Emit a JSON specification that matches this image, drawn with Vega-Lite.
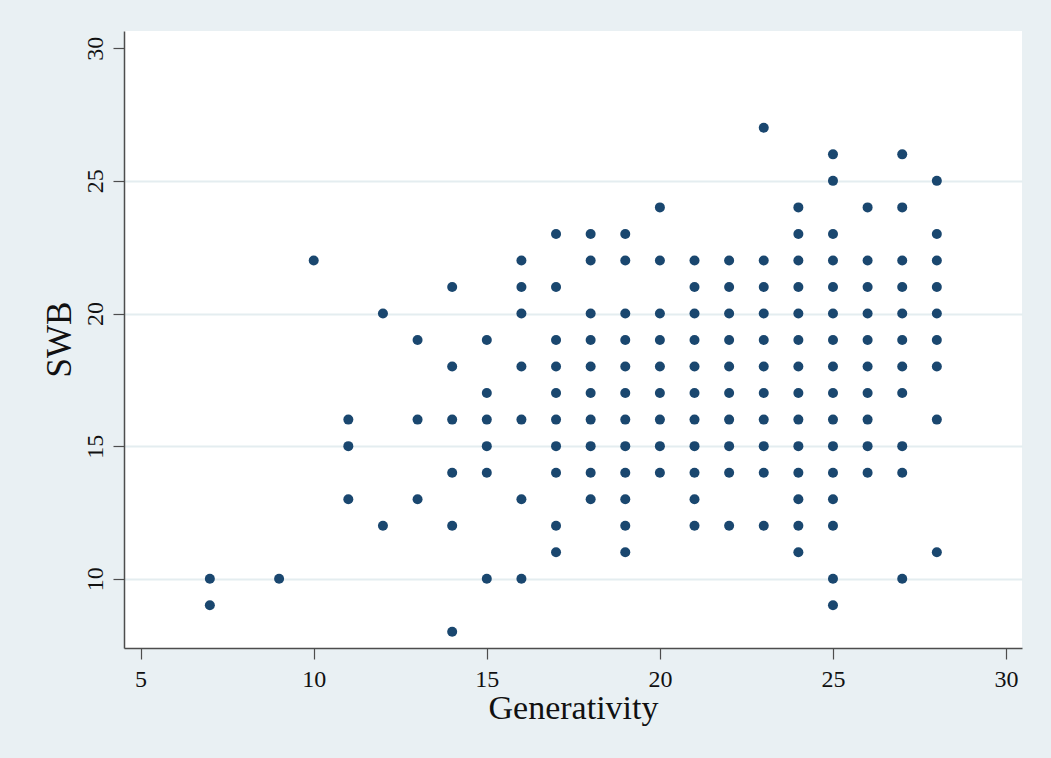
{
  "$schema": "https://vega.github.io/schema/vega-lite/v6.json",
  "autosize": {"type": "none"},
  "padding": {"left": 124, "top": 31, "right": 29, "bottom": 110},
  "width": 898,
  "height": 617,
  "background": "#e9f0f3",
  "config": {
    "view": {"fill": "white", "stroke": null},
    "font": "Liberation Serif"
  },
  "data": {
    "values": [
      {"Generativity": 7, "SWB": 10}, {"Generativity": 7, "SWB": 9},
      {"Generativity": 9, "SWB": 10},
      {"Generativity": 10, "SWB": 22},
      {"Generativity": 11, "SWB": 16}, {"Generativity": 11, "SWB": 15}, {"Generativity": 11, "SWB": 13},
      {"Generativity": 12, "SWB": 20}, {"Generativity": 12, "SWB": 12},
      {"Generativity": 13, "SWB": 19}, {"Generativity": 13, "SWB": 16}, {"Generativity": 13, "SWB": 13},
      {"Generativity": 14, "SWB": 21}, {"Generativity": 14, "SWB": 18}, {"Generativity": 14, "SWB": 16}, {"Generativity": 14, "SWB": 14}, {"Generativity": 14, "SWB": 12}, {"Generativity": 14, "SWB": 8},
      {"Generativity": 15, "SWB": 19}, {"Generativity": 15, "SWB": 17}, {"Generativity": 15, "SWB": 16}, {"Generativity": 15, "SWB": 15}, {"Generativity": 15, "SWB": 14}, {"Generativity": 15, "SWB": 10},
      {"Generativity": 16, "SWB": 22}, {"Generativity": 16, "SWB": 21}, {"Generativity": 16, "SWB": 20}, {"Generativity": 16, "SWB": 18}, {"Generativity": 16, "SWB": 16}, {"Generativity": 16, "SWB": 13}, {"Generativity": 16, "SWB": 10},
      {"Generativity": 17, "SWB": 23}, {"Generativity": 17, "SWB": 21}, {"Generativity": 17, "SWB": 19}, {"Generativity": 17, "SWB": 18}, {"Generativity": 17, "SWB": 17}, {"Generativity": 17, "SWB": 16}, {"Generativity": 17, "SWB": 15}, {"Generativity": 17, "SWB": 14}, {"Generativity": 17, "SWB": 12}, {"Generativity": 17, "SWB": 11},
      {"Generativity": 18, "SWB": 23}, {"Generativity": 18, "SWB": 22}, {"Generativity": 18, "SWB": 20}, {"Generativity": 18, "SWB": 19}, {"Generativity": 18, "SWB": 18}, {"Generativity": 18, "SWB": 17}, {"Generativity": 18, "SWB": 16}, {"Generativity": 18, "SWB": 15}, {"Generativity": 18, "SWB": 14}, {"Generativity": 18, "SWB": 13},
      {"Generativity": 19, "SWB": 23}, {"Generativity": 19, "SWB": 22}, {"Generativity": 19, "SWB": 20}, {"Generativity": 19, "SWB": 19}, {"Generativity": 19, "SWB": 18}, {"Generativity": 19, "SWB": 17}, {"Generativity": 19, "SWB": 16}, {"Generativity": 19, "SWB": 15}, {"Generativity": 19, "SWB": 14}, {"Generativity": 19, "SWB": 13}, {"Generativity": 19, "SWB": 12}, {"Generativity": 19, "SWB": 11},
      {"Generativity": 20, "SWB": 24}, {"Generativity": 20, "SWB": 22}, {"Generativity": 20, "SWB": 20}, {"Generativity": 20, "SWB": 19}, {"Generativity": 20, "SWB": 18}, {"Generativity": 20, "SWB": 17}, {"Generativity": 20, "SWB": 16}, {"Generativity": 20, "SWB": 15}, {"Generativity": 20, "SWB": 14},
      {"Generativity": 21, "SWB": 22}, {"Generativity": 21, "SWB": 21}, {"Generativity": 21, "SWB": 20}, {"Generativity": 21, "SWB": 19}, {"Generativity": 21, "SWB": 18}, {"Generativity": 21, "SWB": 17}, {"Generativity": 21, "SWB": 16}, {"Generativity": 21, "SWB": 15}, {"Generativity": 21, "SWB": 14}, {"Generativity": 21, "SWB": 13}, {"Generativity": 21, "SWB": 12},
      {"Generativity": 22, "SWB": 22}, {"Generativity": 22, "SWB": 21}, {"Generativity": 22, "SWB": 20}, {"Generativity": 22, "SWB": 19}, {"Generativity": 22, "SWB": 18}, {"Generativity": 22, "SWB": 17}, {"Generativity": 22, "SWB": 16}, {"Generativity": 22, "SWB": 15}, {"Generativity": 22, "SWB": 14}, {"Generativity": 22, "SWB": 12},
      {"Generativity": 23, "SWB": 27}, {"Generativity": 23, "SWB": 22}, {"Generativity": 23, "SWB": 21}, {"Generativity": 23, "SWB": 20}, {"Generativity": 23, "SWB": 19}, {"Generativity": 23, "SWB": 18}, {"Generativity": 23, "SWB": 17}, {"Generativity": 23, "SWB": 16}, {"Generativity": 23, "SWB": 15}, {"Generativity": 23, "SWB": 14}, {"Generativity": 23, "SWB": 12},
      {"Generativity": 24, "SWB": 24}, {"Generativity": 24, "SWB": 23}, {"Generativity": 24, "SWB": 22}, {"Generativity": 24, "SWB": 21}, {"Generativity": 24, "SWB": 20}, {"Generativity": 24, "SWB": 19}, {"Generativity": 24, "SWB": 18}, {"Generativity": 24, "SWB": 17}, {"Generativity": 24, "SWB": 16}, {"Generativity": 24, "SWB": 15}, {"Generativity": 24, "SWB": 14}, {"Generativity": 24, "SWB": 13}, {"Generativity": 24, "SWB": 12}, {"Generativity": 24, "SWB": 11},
      {"Generativity": 25, "SWB": 26}, {"Generativity": 25, "SWB": 25}, {"Generativity": 25, "SWB": 23}, {"Generativity": 25, "SWB": 22}, {"Generativity": 25, "SWB": 21}, {"Generativity": 25, "SWB": 20}, {"Generativity": 25, "SWB": 19}, {"Generativity": 25, "SWB": 18}, {"Generativity": 25, "SWB": 17}, {"Generativity": 25, "SWB": 16}, {"Generativity": 25, "SWB": 15}, {"Generativity": 25, "SWB": 14}, {"Generativity": 25, "SWB": 13}, {"Generativity": 25, "SWB": 12}, {"Generativity": 25, "SWB": 10}, {"Generativity": 25, "SWB": 9},
      {"Generativity": 26, "SWB": 24}, {"Generativity": 26, "SWB": 22}, {"Generativity": 26, "SWB": 21}, {"Generativity": 26, "SWB": 20}, {"Generativity": 26, "SWB": 19}, {"Generativity": 26, "SWB": 18}, {"Generativity": 26, "SWB": 17}, {"Generativity": 26, "SWB": 16}, {"Generativity": 26, "SWB": 15}, {"Generativity": 26, "SWB": 14},
      {"Generativity": 27, "SWB": 26}, {"Generativity": 27, "SWB": 24}, {"Generativity": 27, "SWB": 22}, {"Generativity": 27, "SWB": 21}, {"Generativity": 27, "SWB": 20}, {"Generativity": 27, "SWB": 19}, {"Generativity": 27, "SWB": 18}, {"Generativity": 27, "SWB": 17}, {"Generativity": 27, "SWB": 15}, {"Generativity": 27, "SWB": 14}, {"Generativity": 27, "SWB": 10},
      {"Generativity": 28, "SWB": 25}, {"Generativity": 28, "SWB": 23}, {"Generativity": 28, "SWB": 22}, {"Generativity": 28, "SWB": 21}, {"Generativity": 28, "SWB": 20}, {"Generativity": 28, "SWB": 19}, {"Generativity": 28, "SWB": 18}, {"Generativity": 28, "SWB": 16}, {"Generativity": 28, "SWB": 11}
    ]
  },
  "mark": {"type": "point", "shape": "circle", "filled": true, "size": 100, "color": "#1a476f", "opacity": 1},
  "encoding": {
    "x": {
      "field": "Generativity",
      "type": "quantitative",
      "scale": {"domain": [4.52, 30.46], "nice": false, "zero": false},
      "axis": {
        "values": [5, 10, 15, 20, 25, 30],
        "grid": false,
        "domainColor": "#4d4d4d",
        "domainWidth": 1.5,
        "tickColor": "#4d4d4d",
        "tickWidth": 1.2,
        "tickSize": 11,
        "labelFont": "Liberation Serif",
        "labelFontSize": 24,
        "labelColor": "#111111",
        "labelBaseline": "alphabetic",
        "labelPadding": 27,
        "labelFlush": false,
        "title": "Generativity",
        "titleFont": "Liberation Serif",
        "titleFontSize": 34,
        "titleFontWeight": "normal",
        "titleColor": "#111111",
        "titleBaseline": "alphabetic",
        "titleAlign": "center",
        "titleY": 70,
        "titleX": 449
      }
    },
    "y": {
      "field": "SWB",
      "type": "quantitative",
      "scale": {"domain": [7.39, 30.65], "nice": false, "zero": false},
      "axis": {
        "values": [10, 15, 20, 25, 30],
        "grid": true,
        "gridColor": {"condition": {"test": "datum.value >= 30", "value": "transparent"}, "value": "#e4edf0"},
        "gridWidth": 2,
        "domainColor": "#4d4d4d",
        "domainWidth": 1.5,
        "tickColor": "#4d4d4d",
        "tickWidth": 1.2,
        "tickSize": 11,
        "labelFont": "Liberation Serif",
        "labelFontSize": 24,
        "labelColor": "#111111",
        "labelAngle": 270,
        "labelAlign": "center",
        "labelBaseline": "alphabetic",
        "labelPadding": 11,
        "labelFlush": false,
        "title": "SWB",
        "titleFont": "Liberation Serif",
        "titleFontSize": 35,
        "titleFontWeight": "normal",
        "titleColor": "#111111",
        "titleAngle": 270,
        "titleAlign": "center",
        "titleBaseline": "alphabetic",
        "titleX": -54,
        "titleY": 308
      }
    }
  }
}
